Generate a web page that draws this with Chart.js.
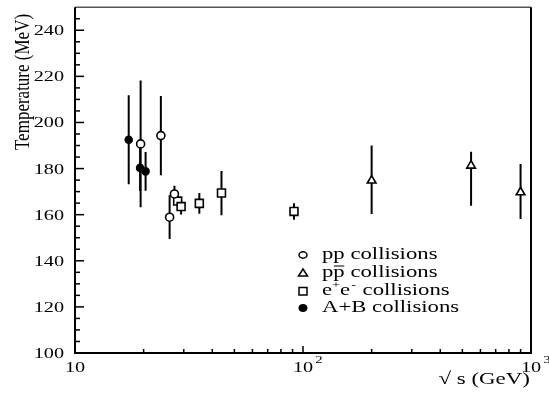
<!DOCTYPE html>
<html>
<head>
<meta charset="UTF-8">
<title>Temperature vs sqrt(s)</title>
<script src="https://cdn.jsdelivr.net/npm/chart.js@4.4.3/dist/chart.umd.min.js"></script>
<style>
  body { margin: 0; background: #fff; }
  canvas { display: block; }
</style>
</head>
<body>
<canvas id="chart" width="549" height="394"></canvas>
<script>
// data: sqrt(s) in GeV, T in MeV
const sqrtsPP = [19.4, 23.8, 26.0, 27.3];
const tempPP = [190.7, 194.3, 158.9, 169.0];
const errPP = [27.5, 17.2, 9.5, 3.6];

const sqrtsPPbar = [200, 546, 900];
const tempPPbar = [174.8, 181.3, 169.7];
const errPPbarLo = [14.5, 17.4, 11.6];
const errPPbarHi = [15.2, 6.0, 12.3];

const sqrtsEE = [28.2, 29.2, 35.1, 43.9, 91.3];
const tempEE = [165.9, 163.5, 164.9, 169.4, 161.4];
const errEE = [2.5, 3.4, 4.5, 9.6, 3.6];

const sqrtsAB = [17.2, 19.3, 20.4];
const tempAB = [192.5, 180.3, 178.8];
const errAB = [19.3, 10.0, 8.4];

const yTicks = [100, 120, 140, 160, 180, 200, 220, 240];
const xDecades = [1, 2, 3];   // 10^1, 10^2, 10^3
const legendLabels = ['pp collisions', 'pp collisions', 'e+e- collisions', 'A+B collisions'];

const FONT = '"Liberation Serif", "Times New Roman", serif';
const SX = 1.35;  // the original figure is stretched sideways

function points(xs, ys) {
    return xs.map((x, i) => ({ x: x, y: ys[i] }));
}

// vertical error segments, separated by gaps
function errBars(xs, ys, lo, hi) {
    const out = [];
    xs.forEach((x, i) => {
        out.push({ x: x, y: ys[i] - lo[i] });
        out.push({ x: x, y: ys[i] + hi[i] });
        out.push({ x: x, y: null });
    });
    return out;
}

function errSet(data) {
    return {
        data: data, showLine: true, spanGaps: false,
        borderColor: '#000', borderWidth: 2, pointRadius: 0, order: 1
    };
}

function markSet(data, style, radius, fill) {
    return {
        data: data, pointStyle: style, pointRadius: radius,
        backgroundColor: fill, borderColor: '#000', pointBorderWidth: 1.6, order: 0
    };
}

function stretchText(ctx, s, x, y, align, sx) {
    ctx.save();
    ctx.translate(x, y);
    ctx.scale(sx, 1);
    ctx.textAlign = align;
    ctx.fillText(s, 0, 0);
    ctx.restore();
}

function legendMarker(ctx, kind, x, y) {
    ctx.save();
    ctx.lineWidth = 1.5;
    ctx.strokeStyle = '#000';
    ctx.fillStyle = '#fff';
    ctx.beginPath();
    if (kind === 0) {
        ctx.ellipse(x, y, 4, 3.2, 0, 0, Math.PI * 2);
    } else if (kind === 1) {
        ctx.moveTo(x - 4.5, y + 3);
        ctx.lineTo(x + 4.5, y + 3);
        ctx.lineTo(x, y - 4);
        ctx.closePath();
    } else if (kind === 2) {
        ctx.rect(x - 4, y - 3.5, 8, 7.5);
    } else {
        ctx.ellipse(x, y, 3.8, 3.3, 0, 0, Math.PI * 2);
        ctx.fillStyle = '#000';
    }
    ctx.fill();
    ctx.stroke();
    ctx.restore();
}

const axesPlugin = {
    id: 'axesPlugin',
    afterDraw(chart) {
        const ctx = chart.ctx;
        const a = chart.chartArea;
        const xs = chart.scales.x, ys = chart.scales.y;
        ctx.save();

        // frame
        ctx.lineWidth = 1.5;
        ctx.strokeStyle = '#555';
        ctx.beginPath();
        ctx.moveTo(a.left, a.top); ctx.lineTo(a.right, a.top);
        ctx.stroke();
        ctx.lineWidth = 2;
        ctx.strokeStyle = '#000';
        ctx.beginPath();
        ctx.moveTo(a.right, a.top); ctx.lineTo(a.right, a.bottom);
        ctx.lineTo(a.left, a.bottom); ctx.lineTo(a.left, a.top);
        ctx.stroke();

        // y ticks every 5, labelled every 20
        ctx.lineWidth = 1.5;
        for (let v = 105; v < 250; v += 5) {
            const y = ys.getPixelForValue(v);
            const len = (v % 20 === 0) ? 9 : 5;
            ctx.beginPath();
            ctx.moveTo(a.left, y); ctx.lineTo(a.left + len, y);
            ctx.stroke();
        }
        // x ticks, log minor
        xDecades.slice(0, 2).forEach(d => {
            for (let m = 2; m <= 10; m++) {
                const x = xs.getPixelForValue(m * Math.pow(10, d));
                const len = (m === 10) ? 7 : 4;
                if (m === 10 && d === 2) continue;
                ctx.beginPath();
                ctx.moveTo(x, a.bottom); ctx.lineTo(x, a.bottom - len);
                ctx.stroke();
            }
        });

        // tick labels
        ctx.fillStyle = '#000';
        ctx.font = '15px ' + FONT;
        ctx.textBaseline = 'middle';
        yTicks.forEach(v => {
            stretchText(ctx, String(v), 64, ys.getPixelForValue(v) + 1, 'right', SX);
        });
        xDecades.forEach(d => {
            const x = xs.getPixelForValue(Math.pow(10, d));
            ctx.font = '15px ' + FONT;
            stretchText(ctx, '10', x, 368, 'center', SX);
            if (d > 1) {
                const w = ctx.measureText('10').width * SX;
                ctx.font = '11px ' + FONT;
                stretchText(ctx, String(d), x + w / 2 + 2, 360, 'left', SX);
            }
        });

        // axis titles
        ctx.font = '17px ' + FONT;
        stretchText(ctx, '\u221A s (GeV)', 530, 380, 'right', SX);
        ctx.save();
        ctx.translate(23, 82);
        ctx.rotate(-Math.PI / 2);
        ctx.scale(1, 1.25);
        ctx.font = '17px ' + FONT;
        ctx.textAlign = 'center';
        ctx.fillText('Temperature (MeV)', 0, 0);
        ctx.restore();

        // legend
        const rows = [255, 273, 291, 308];
        const LX = 1.42;
        const LF = '16px ' + FONT;
        ctx.font = LF;
        rows.forEach((y, i) => {
            legendMarker(ctx, i, 303, y);
            const t = legendLabels[i];
            if (i === 2) {
                // e+e- with superscripts
                let x = 322;
                stretchText(ctx, 'e', x, y, 'left', LX);
                x += ctx.measureText('e').width * LX;
                ctx.font = '10px ' + FONT;
                stretchText(ctx, '+', x, y - 6, 'left', LX);
                x += ctx.measureText('+').width * LX;
                ctx.font = LF;
                stretchText(ctx, 'e', x, y, 'left', LX);
                x += ctx.measureText('e').width * LX;
                ctx.font = '10px ' + FONT;
                stretchText(ctx, '-', x + 1, y - 6, 'left', LX);
                x += ctx.measureText('-').width * LX + 2;
                ctx.font = LF;
                stretchText(ctx, ' collisions', x, y, 'left', LX);
            } else {
                stretchText(ctx, t, 322, y, 'left', LX);
                if (i === 1) {
                    // bar over the second p
                    const p = ctx.measureText('p').width * LX;
                    ctx.lineWidth = 1;
                    ctx.beginPath();
                    ctx.moveTo(322 + p + 0.5, y - 7);
                    ctx.lineTo(322 + 2 * p - 0.5, y - 7);
                    ctx.stroke();
                }
            }
        });
        ctx.restore();
    }
};

new Chart(document.getElementById('chart'), {
    type: 'scatter',
    data: {
        datasets: [
            markSet(points(sqrtsPP, tempPP), 'circle', 4, '#fff'),
            markSet(points(sqrtsPPbar, tempPPbar), 'triangle', 5, '#fff'),
            markSet(points(sqrtsEE, tempEE), 'rect', 5.6, '#fff'),
            markSet(points(sqrtsAB, tempAB), 'circle', 3.5, '#000'),
            errSet(errBars(sqrtsPP, tempPP, errPP, errPP)),
            errSet(errBars(sqrtsPPbar, tempPPbar, errPPbarLo, errPPbarHi)),
            errSet(errBars(sqrtsEE, tempEE, errEE, errEE)),
            errSet(errBars(sqrtsAB, tempAB, errAB, errAB))
        ]
    },
    plugins: [axesPlugin],
    options: {
        animation: false,
        responsive: false,
        layout: { padding: { left: 75, top: 7, right: 18, bottom: 41 } },
        plugins: { legend: { display: false }, tooltip: { enabled: false } },
        scales: {
            x: { type: 'logarithmic', min: 10, max: 1000, display: false },
            y: { type: 'linear', min: 100, max: 250, display: false }
        }
    }
});
</script>
</body>
</html>
